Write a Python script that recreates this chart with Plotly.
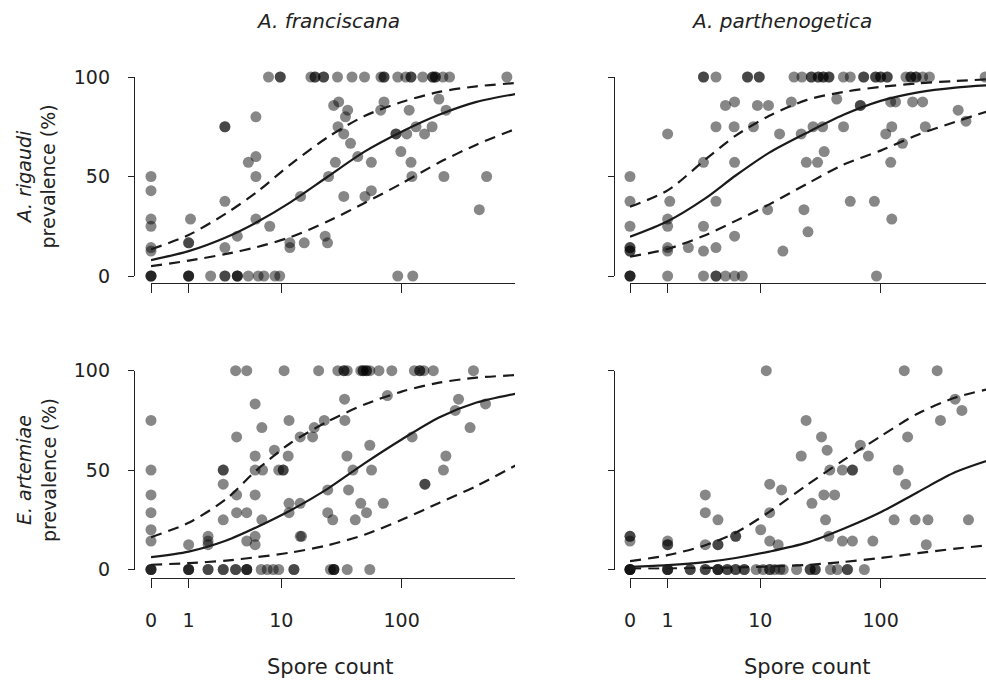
import plotly.graph_objects as go

# ---------------- data ----------------
col_titles = ["A. franciscana", "A. parthenogetica"]
row_titles = [("A. rigaudi", "prevalence (%)"), ("E. artemiae", "prevalence (%)")]
x_title = "Spore count"
x_tick_vals = [0, 1, 10, 100]
x_tick_text = ["0", "1", "10", "100"]
y_tick_vals = [0, 50, 100]

# (spore count, prevalence %) observations
tl_points = [
    (7.7, 100), (9.8, 100), (9.8, 100), (18, 100), (19.5, 100), (19.5, 100), (23, 100), (23, 100),
    (30, 100), (39.5, 100), (50, 100), (68, 100), (72, 100), (72, 100), (93, 100), (108, 100),
    (119, 100), (119, 100), (148, 100), (178, 100), (178, 100), (187, 100), (187, 100), (215, 100),
    (243, 100), (700, 100),
    (0, 0), (0, 0), (0, 0), (1, 0), (1, 0), (1, 0), (2, 0), (2.9, 0), (2.9, 0), (3.9, 0), (3.9, 0),
    (3.9, 0), (5, 0), (6.2, 0), (7, 0), (8.8, 0), (9.7, 0), (93, 0), (123, 0),
    (0, 50), (0, 42.9), (0, 28.6), (0, 25), (0, 14.3), (0, 12.5),
    (1.07, 28.6), (1, 16.7), (1, 16.7), (2.9, 75), (2.9, 75), (2.9, 37.5), (2.9, 14.3),
    (3.9, 20), (5, 57.1), (5.9, 60), (5.9, 80), (5.9, 50), (5.9, 28.6), (7.9, 25),
    (11.9, 16.7), (11.9, 14.3), (15.8, 16.7), (14.7, 40), (23.7, 20), (24.8, 16.7), (25.3, 50),
    (27.9, 85.7), (30.7, 87.5), (30.3, 75), (33.8, 71.4), (34.9, 80), (36.4, 83.3),
    (28.8, 57.1), (33.8, 40), (38.4, 66.7), (44, 60), (50.4, 40), (56.8, 42.9), (56.8, 57.1),
    (67.7, 83.3), (72, 87.5), (90, 71.4), (90, 71.4), (98.6, 62.5), (115, 83.3), (110, 71.4),
    (119, 57.1), (121, 50), (130.6, 75), (153, 71.4), (176, 75), (199.6, 88.9), (228, 83.3),
    (219, 50), (421, 33.3), (482, 50),
]

tr_points = [
    (2.87, 100), (2.87, 100), (3.87, 100), (7.7, 100), (7.7, 100), (9.8, 100), (9.8, 100),
    (19.5, 100), (22.7, 100), (27.2, 100), (27.2, 100), (31, 100), (31, 100), (34.1, 100),
    (34.1, 100), (38, 100), (38, 100), (49.9, 100), (56.7, 100), (72.9, 100), (72.9, 100),
    (91, 100), (91, 100), (100, 100), (100, 100), (113, 100), (113, 100), (160, 100), (175, 100),
    (175, 100), (192.6, 100), (192.6, 100), (218, 100), (247, 100), (691, 100),
    (4.8, 85.7), (5.86, 87.5), (3.87, 75), (5.8, 75), (8.7, 75), (9.45, 85.7), (11.8, 85.7),
    (18.5, 87.5), (14.7, 71.4), (22.4, 71.4), (28.1, 75), (33.7, 75), (44, 88.9), (50, 75),
    (68.5, 85.7), (68.5, 85.7), (120.6, 87.5), (132, 87.5), (181, 87.5), (218, 87.5),
    (110, 71.4), (123, 75), (229, 75), (420, 83.3), (485, 77.8), (1, 71.4),
    (0, 50), (0, 37.5), (0, 25), (0, 14.3), (0, 14.3), (0, 12.5), (0, 12.5), (0, 0), (0, 0), (0, 0),
    (1.08, 37.5), (1, 28.6), (1, 25), (1, 14.3), (1, 12.5), (1, 0), (1.93, 14.3),
    (2.87, 57.1), (2.87, 25), (2.87, 12.5), (2.87, 0), (3.87, 37.5), (3.87, 14.3), (3.87, 0),
    (3.87, 0), (5.86, 57.1), (5.86, 20), (4.8, 0), (5.86, 0), (6.9, 0),
    (11.6, 33.3), (15.7, 12.5), (23.6, 33.3), (25.5, 22.2), (24.7, 57.1), (30.6, 57.1),
    (34.7, 62.5), (56.7, 37.5), (89, 37.5), (92.6, 0), (120.6, 57.1), (123, 28.6), (150, 66.7),
]

bl_points = [
    (3.75, 100), (4.83, 100), (10.6, 100), (20.9, 100), (30.2, 100), (33.9, 100), (33.9, 100),
    (36.1, 100), (46.6, 100), (48.7, 100), (48.7, 100), (51.9, 100), (51.9, 100), (55.2, 100),
    (65.5, 100), (83.3, 100), (126.7, 100), (140, 100), (140, 100), (151, 100), (180, 100),
    (378, 100),
    (0, 0), (0, 0), (0, 0), (1, 0), (1, 0), (1, 0), (1.86, 0), (1.86, 0), (2.78, 0), (2.78, 0),
    (3.75, 0), (3.75, 0), (4.83, 0), (4.83, 0), (4.83, 0), (6.6, 0), (7.5, 0), (8.5, 0), (9.5, 0),
    (12.9, 0), (12.9, 0), (26.2, 0), (28, 0), (28, 0), (28, 0), (36.1, 0), (55.2, 0),
    (0, 75), (0, 50), (0, 37.5), (0, 28.6), (0, 20), (0, 14.3), (1, 12.5),
    (2.78, 50), (2.78, 50), (2.78, 42.9), (2.78, 25), (1.86, 16.7), (1.86, 14.3), (1.86, 12.5),
    (3.84, 66.7), (3.84, 37.5), (3.84, 28.6), (4.83, 28.6), (4.83, 14.3),
    (5.8, 83.3), (5.8, 57.1), (5.8, 50), (6.8, 50), (6.7, 71.4), (5.8, 37.5), (5.8, 16.7),
    (5.8, 12.5), (6.7, 25), (8.7, 60), (9.5, 50), (10.4, 50), (10.4, 50),
    (11.7, 75), (11.5, 57.1), (11.7, 33.3), (11.7, 28.6), (14.6, 33.3), (14.6, 16.7), (15, 16.7),
    (14.6, 66.7), (18.6, 66.7), (19.2, 71.4), (23.3, 75), (24.9, 40), (24.9, 28.6), (27.4, 25),
    (34.3, 85.7), (34.5, 75), (35.9, 57.1), (37, 40), (40.2, 50), (42, 25), (46.6, 33.3),
    (51.9, 28.6), (55.2, 62.5), (57, 50), (71, 33.3), (76.6, 87.5), (121.5, 66.7),
    (154, 42.9), (154, 42.9), (217, 50), (227, 57.1), (270, 80), (287, 85.7), (355, 71.4),
    (472, 83.3),
]

br_points = [
    (11.3, 100), (155, 100), (285, 100),
    (0, 0), (0, 0), (0, 0), (0, 0), (1, 0), (1, 0), (1, 0), (2.03, 0), (2.03, 0), (3, 0), (3, 0),
    (4.05, 0), (4.05, 0), (4.05, 0), (5, 0), (5, 0), (6, 0), (6, 0), (7.2, 0), (7.2, 0), (9.2, 0),
    (10.6, 0), (12.1, 0), (12.1, 0), (13.4, 0), (14.8, 0), (15.8, 0), (20.5, 0), (26.6, 0),
    (26.6, 0), (29.3, 0), (29.3, 0), (39.1, 0), (44.5, 0), (53.8, 0), (53.8, 0), (73.8, 0),
    (0, 16.7), (0, 16.7), (0, 14.3), (1, 14.3), (1, 12.5), (1, 12.5),
    (3, 37.5), (3, 28.6), (3, 12.5), (4.05, 25), (4.05, 12.5), (4.05, 12.5), (6, 16.7), (6, 16.7),
    (10.1, 20), (12.1, 42.9), (12.1, 28.6), (12.1, 14.3), (14.3, 12.5), (15.3, 40),
    (22.4, 57.1), (24.6, 75), (27.5, 33.3), (33, 66.7), (36.7, 60), (38.6, 50),
    (34.5, 37.5), (42.3, 37.5), (35.6, 25), (37.9, 16.7), (48.9, 50), (59.1, 50), (59.1, 50),
    (48.9, 14.3), (59.1, 14.3), (68.5, 62.5), (79.6, 57.1), (86.5, 14.3),
    (128.4, 25), (138.6, 50), (159, 42.9), (165, 66.7), (189.5, 25), (240.5, 25), (233, 12.5),
    (303, 75), (397, 85.7), (450, 80), (508, 25),
]

# fitted curves (fit, lower and upper bound), read at these spore counts
curve_x = [0, 1, 3, 6, 12, 25, 50, 100, 200, 400, 830]
tl_fit = [8, 12.5, 19.5, 27, 37, 50, 62.5, 72.5, 81, 87.5, 91.5]
tl_lo = [5, 7.7, 11.1, 14.5, 19.5, 27.5, 36.7, 46.5, 57, 66, 74]
tl_hi = [13.4, 20.6, 31.5, 42.1, 56, 69.8, 80.4, 87.4, 92.5, 95.3, 97]
tr_fit = [19.7, 27.5, 39, 50.5, 62, 72, 81, 88, 92.3, 94.7, 96]
tr_lo = [9.7, 13.6, 20.5, 27.7, 36, 46.3, 56, 63, 71, 77.5, 84]
tr_hi = [34.8, 43, 58.5, 70.5, 80.5, 88.5, 92.5, 95, 96.8, 98, 99]
bl_fit = [6.2, 9, 14.6, 21.3, 29.7, 40.7, 53.4, 65.4, 76.5, 84, 88.5]
bl_lo = [2.4, 3.2, 4.5, 6.2, 8.5, 12.2, 17.5, 25, 33.5, 42, 52.5]
bl_hi = [16.3, 23.5, 35.5, 50, 63.5, 74.5, 83, 89.5, 94, 96.5, 97.8]
br_fit = [1.3, 2.2, 3.7, 5.8, 9, 13.5, 20.5, 28.8, 39, 49, 56]
br_lo = [0.4, 0.5, 0.8, 1, 1.5, 2.3, 3.8, 5.8, 8.2, 10.5, 12.5]
br_hi = [4.2, 7.2, 12.2, 18.5, 29, 42.5, 55, 67, 78.5, 86.5, 91.5]

# ---------------- figure ----------------
W, H = 986, 682
FONT = "DejaVu Sans"
INK = "#222222"
PX_PER_DECADE = 125.05


def fx(p):
    return p / W


def fy(p):
    return 1 - p / H


panels = [
    # points, fit, lo, hi, col, row
    (tl_points, tl_fit, tl_lo, tl_hi, 0, 0),
    (tr_points, tr_fit, tr_lo, tr_hi, 1, 0),
    (bl_points, bl_fit, bl_lo, bl_hi, 0, 1),
    (br_points, br_fit, br_lo, br_hi, 1, 1),
]

col_x0 = [151, 630]        # pixel of spore count 0
col_x1 = [515, 986]        # right end of axis
col_yaxis = [134, 614]     # y axis line
row_ytop = [77, 370.7]     # y = 100
row_ybot = [276, 569.5]    # y = 0
row_xaxis = [283, 578]     # x axis line

fig = go.Figure()
layout = {}

for i, (pts, fit, lo, hi, c, r) in enumerate(panels):
    k = i + 1
    xa = "x" if k == 1 else f"x{k}"
    ya = "y" if k == 1 else f"y{k}"
    xs = [p[0] + 1 for p in pts]
    ys = [p[1] for p in pts]
    fig.add_trace(go.Scatter(
        x=xs, y=ys, mode="markers", xaxis=xa, yaxis=ya, cliponaxis=False,
        marker=dict(size=11, color="black", opacity=0.47, line=dict(width=0)),
        showlegend=False, hoverinfo="skip"))
    cx = [v + 1 for v in curve_x]
    for vals, dash in ((lo, "11px,7px"), (hi, "11px,7px"), (fit, "solid")):
        fig.add_trace(go.Scatter(
            x=cx, y=vals, mode="lines", xaxis=xa, yaxis=ya,
            line=dict(color="#1a1a1a", width=2.2, dash=dash, shape="spline", smoothing=0.8),
            showlegend=False, hoverinfo="skip"))

    xr1 = (col_x1[c] - col_x0[c]) / PX_PER_DECADE
    layout["xaxis" if k == 1 else f"xaxis{k}"] = dict(
        type="log", range=[0, xr1], domain=[fx(col_x0[c]), fx(col_x1[c])],
        anchor="free", position=fy(row_xaxis[r]), automargin=False,
        tickvals=[v + 1 for v in x_tick_vals], ticktext=x_tick_text,
        showticklabels=(r == 1), ticks="outside", ticklen=9, tickwidth=1.4,
        tickcolor=INK, showline=True, linecolor=INK, linewidth=1.4,
        showgrid=False, zeroline=False, ticklabelstandoff=16,
        tickfont=dict(family=FONT, size=19, color=INK))
    layout["yaxis" if k == 1 else f"yaxis{k}"] = dict(
        range=[0, 100], domain=[fy(row_ybot[r]), fy(row_ytop[r])],
        anchor="free", position=fx(col_yaxis[c]), automargin=False,
        tickvals=y_tick_vals, showticklabels=(c == 0), ticks="outside", ticklen=6,
        tickwidth=1.4, tickcolor=INK, showline=True, linecolor=INK, linewidth=1.4,
        showgrid=False, zeroline=False, ticklabelstandoff=14,
        tickfont=dict(family=FONT, size=19, color=INK))

annotations = []
col_title_x = [328, 781]
for c, t in enumerate(col_titles):
    annotations.append(dict(
        text=f"<i>{t}</i>", x=fx(col_title_x[c]), y=fy(21), xref="paper", yref="paper",
        showarrow=False, xanchor="center", yanchor="middle",
        font=dict(family=FONT, size=20, color=INK)))
spore_x = [330, 807]
for c in range(2):
    annotations.append(dict(
        text=x_title, x=fx(spore_x[c]), y=fy(667), xref="paper", yref="paper",
        showarrow=False, xanchor="center", yanchor="middle",
        font=dict(family=FONT, size=21, color=INK)))
for r, (sp, lab) in enumerate(row_titles):
    annotations.append(dict(
        text=f"<i>{sp}</i><br>{lab}", x=fx(36), y=fy((row_ytop[r] + row_ybot[r]) / 2),
        xref="paper", yref="paper", showarrow=False, textangle=-90,
        xanchor="center", yanchor="middle",
        font=dict(family=FONT, size=19, color=INK)))

fig.update_layout(
    width=W, height=H, margin=dict(l=0, r=0, t=0, b=0, autoexpand=False),
    paper_bgcolor="white", plot_bgcolor="white",
    annotations=annotations, **layout)

fig.write_html("out.html", config={"displayModeBar": False},
               post_script="document.body.style.margin='0';")
